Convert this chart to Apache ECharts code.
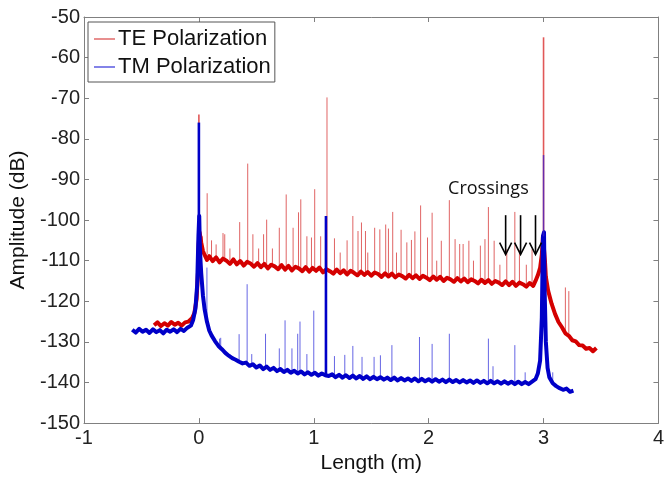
<!DOCTYPE html>
<html><head><meta charset="utf-8">
<script src="https://cdn.jsdelivr.net/npm/echarts@6/dist/echarts.min.js"></script>
<style>html,body{margin:0;padding:0;background:#fff}#c{width:667px;height:479px}</style>
</head><body><div id="c"></div>
<script>
// ---- data ----
const xTicks = [-1, 0, 1, 2, 3, 4];
const yTicks = [-150, -140, -130, -120, -110, -100, -90, -80, -70, -60, -50];
const seriesNames = ['TE Polarization', 'TM Polarization'];

// TE polarization trace (length m, amplitude dB)
const teTrace = [[-0.39,-125.9],[-0.36,-125.2],[-0.33,-126.1],[-0.30,-125.4],[-0.27,-126.0],[-0.24,-125.1],[-0.21,-125.8],[-0.18,-125.3],[-0.15,-126.0],[-0.12,-125.2],[-0.09,-125.0],[-0.06,-124.2],[-0.04,-123.0],[-0.02,-119.5],[-0.008,-113],[-0.002,-106],[0.006,-103],[0.012,-104],[0.02,-105.5],[0.035,-107.6],[0.05,-108.6],[0.07,-109.8],[0.09,-108.9],[0.12,-110.1],[0.15,-109.2],[0.18,-110.4],[0.21,-109.5],[0.24,-110.0],[0.27,-110.8],[0.30,-109.7],[0.33,-110.9],[0.36,-110.1],[0.39,-111.2],[0.42,-110.3],[0.45,-110.7],[0.48,-111.5],[0.51,-110.6],[0.54,-111.6],[0.57,-110.8],[0.60,-111.9],[0.63,-111.0],[0.66,-111.4],[0.69,-112.1],[0.72,-111.1],[0.75,-112.2],[0.78,-111.3],[0.81,-112.4],[0.84,-111.5],[0.87,-111.9],[0.90,-112.6],[0.93,-111.6],[0.96,-112.7],[0.99,-111.8],[1.02,-112.5],[1.05,-111.7],[1.08,-112.9],[1.11,-112.1],[1.14,-112.6],[1.17,-113.2],[1.20,-112.2],[1.23,-113.1],[1.26,-112.4],[1.29,-113.4],[1.32,-112.5],[1.35,-113.0],[1.38,-113.6],[1.41,-112.7],[1.44,-113.5],[1.47,-112.8],[1.50,-113.7],[1.53,-112.9],[1.56,-113.3],[1.59,-114.0],[1.62,-113.1],[1.65,-113.9],[1.68,-113.2],[1.71,-114.1],[1.74,-113.4],[1.77,-113.8],[1.80,-114.4],[1.83,-113.5],[1.86,-114.3],[1.89,-113.6],[1.92,-114.5],[1.95,-113.7],[1.98,-114.2],[2.01,-114.8],[2.04,-113.9],[2.07,-114.7],[2.10,-114.0],[2.13,-115.0],[2.16,-114.2],[2.19,-114.6],[2.22,-115.2],[2.25,-114.3],[2.28,-115.1],[2.31,-114.4],[2.34,-115.3],[2.37,-114.6],[2.40,-115.0],[2.43,-115.6],[2.46,-114.7],[2.49,-115.5],[2.52,-114.8],[2.55,-115.7],[2.58,-115.0],[2.61,-115.4],[2.64,-116.0],[2.67,-115.1],[2.70,-116.0],[2.73,-115.2],[2.76,-116.2],[2.79,-115.4],[2.82,-115.8],[2.85,-116.4],[2.88,-115.5],[2.91,-116.2],[2.93,-115.0],[2.95,-113.6],[2.97,-111.8],[2.985,-108.5],[2.995,-104],[3.005,-104],[3.012,-110],[3.02,-114],[3.04,-117.4],[3.07,-120.6],[3.10,-123.1],[3.13,-125.1],[3.16,-126.4],[3.19,-127.9],[3.22,-128.5],[3.25,-129.6],[3.28,-129.9],[3.31,-130.8],[3.34,-130.9],[3.37,-131.7],[3.40,-131.5],[3.43,-132.3],[3.46,-131.5]];

// TE main reflection peaks: [length, trace level, peak]
const tePeaks = [[0.0,-106,-74],[3.0,-104,-55]];

// TE smaller reflection spikes: [length, trace level, peak]
const teSpikes = [[0.03,-106,-104],[0.072,-108.5,-93.4],[0.11,-109.5,-105],[0.15,-109.5,-106],[0.21,-109.5,-103.2],[0.225,-109.5,-103.5],[0.27,-110,-107],[0.355,-110,-100.5],[0.425,-110.5,-86.1],[0.47,-110.5,-103.5],[0.52,-111,-107],[0.563,-111,-103.5],[0.59,-111,-99.9],[0.64,-111,-107],[0.70,-111.5,-101.9],[0.76,-111.5,-93.7],[0.82,-111.5,-101.9],[0.867,-111.8,-98.1],[0.887,-111.8,-94.9],[0.94,-112,-104],[0.98,-112,-104.3],[1.008,-112,-92.4],[1.06,-112,-104],[1.115,-112.3,-69.8],[1.18,-112.5,-104.5],[1.23,-112.5,-108],[1.29,-112.8,-105],[1.34,-112.8,-99],[1.385,-113,-102.7],[1.415,-113,-100.6],[1.45,-113,-102.7],[1.47,-113,-108],[1.53,-113.2,-101.9],[1.575,-113.3,-102.3],[1.626,-113.4,-101.1],[1.65,-113.4,-102.1],[1.687,-113.5,-98],[1.72,-113.6,-108],[1.76,-113.6,-102.4],[1.81,-113.8,-105.5],[1.85,-113.8,-104.9],[1.88,-114,-102.8],[1.93,-114,-96.4],[1.99,-114,-104.3],[2.03,-114.2,-98.2],[2.07,-114.3,-110],[2.11,-114.4,-105.1],[2.18,-114.5,-95.1],[2.23,-114.6,-104.7],[2.27,-114.6,-105.9],[2.30,-114.7,-105.9],[2.35,-114.8,-105.1],[2.39,-114.8,-110],[2.45,-115,-106.3],[2.49,-115,-104.7],[2.52,-115.1,-96.8],[2.57,-115.2,-105.1],[2.62,-115.3,-111],[2.68,-115.5,-107.2],[2.75,-115.6,-98],[2.79,-115.7,-107.4],[2.85,-115.8,-111],[2.90,-115.8,-107.2],[3.19,-127.8,-116.6],[3.22,-128.5,-117.5]];

// TM polarization trace
const tmTrace = [[-0.58,-127.0],[-0.55,-127.7],[-0.52,-126.8],[-0.49,-127.5],[-0.46,-127.0],[-0.43,-127.8],[-0.40,-126.9],[-0.37,-127.6],[-0.34,-127.1],[-0.31,-127.9],[-0.28,-127.0],[-0.25,-127.5],[-0.22,-126.9],[-0.19,-127.6],[-0.16,-126.8],[-0.13,-127.3],[-0.10,-126.5],[-0.07,-126.0],[-0.05,-124.6],[-0.03,-121.8],[-0.015,-116],[-0.004,-104],[0.003,-99],[0.008,-106],[0.014,-110],[0.02,-113],[0.035,-118.5],[0.05,-122],[0.07,-125],[0.09,-127.2],[0.11,-128.4],[0.14,-129.8],[0.17,-131.0],[0.20,-131.8],[0.23,-132.7],[0.26,-133.4],[0.29,-134.0],[0.32,-134.4],[0.35,-134.9],[0.38,-135.3],[0.41,-135.1],[0.44,-135.9],[0.47,-135.5],[0.50,-136.3],[0.53,-135.8],[0.56,-136.7],[0.59,-136.1],[0.62,-136.9],[0.65,-136.4],[0.68,-137.2],[0.71,-136.7],[0.74,-137.4],[0.77,-136.9],[0.80,-137.6],[0.83,-137.1],[0.86,-137.8],[0.89,-137.3],[0.92,-138.0],[0.95,-137.5],[0.98,-138.1],[1.01,-137.6],[1.04,-138.3],[1.07,-137.8],[1.10,-138.2],[1.13,-138.4],[1.16,-138.0],[1.19,-138.7],[1.22,-138.1],[1.25,-138.8],[1.28,-138.2],[1.31,-138.9],[1.34,-138.3],[1.37,-139.0],[1.40,-138.4],[1.43,-139.1],[1.46,-138.5],[1.49,-139.2],[1.52,-138.6],[1.55,-139.2],[1.58,-138.7],[1.61,-139.3],[1.64,-138.8],[1.67,-139.4],[1.70,-138.8],[1.73,-139.5],[1.76,-138.9],[1.79,-139.5],[1.82,-139.0],[1.85,-139.6],[1.88,-139.0],[1.91,-139.7],[1.94,-139.1],[1.97,-139.7],[2.00,-139.2],[2.03,-139.8],[2.06,-139.2],[2.09,-139.8],[2.12,-139.3],[2.15,-139.9],[2.18,-139.3],[2.21,-139.9],[2.24,-139.4],[2.27,-140.0],[2.30,-139.4],[2.33,-140.0],[2.36,-139.5],[2.39,-140.1],[2.42,-139.5],[2.45,-140.1],[2.48,-139.6],[2.51,-140.2],[2.54,-139.6],[2.57,-140.2],[2.60,-139.7],[2.63,-140.3],[2.66,-139.7],[2.69,-140.3],[2.72,-139.8],[2.75,-140.4],[2.78,-139.8],[2.81,-140.4],[2.84,-139.9],[2.87,-140.4],[2.90,-139.8],[2.93,-139.2],[2.95,-137.8],[2.97,-134.6],[2.985,-124],[2.995,-104],[3.004,-103],[3.01,-118],[3.02,-130],[3.035,-136.4],[3.05,-138.7],[3.08,-140.2],[3.11,-140.9],[3.14,-141.4],[3.17,-141.8],[3.20,-141.5],[3.23,-142.3],[3.26,-142.0]];

// TM main reflection peaks: [length, trace level, peak]
const tmPeaks = [[0.0,-100,-76],[1.106,-138.2,-99],[3.0,-104,-84]];

// TM smaller reflection spikes: [length, trace level, peak]
const tmSpikes = [[0.07,-125,-111.7],[0.18,-131,-129.2],[0.19,-131.2,-129],[0.35,-134.9,-128.1],[0.42,-135.2,-115.8],[0.46,-135.7,-133],[0.58,-136.4,-128],[0.70,-137,-131.6],[0.75,-137.1,-124.7],[0.81,-137.3,-131.6],[0.86,-137.5,-128],[0.88,-137.5,-125],[0.94,-137.8,-133],[1.0,-137.9,-122.3],[1.18,-138.4,-133.5],[1.27,-138.5,-133.2],[1.34,-138.6,-131],[1.42,-138.8,-133.7],[1.525,-138.9,-133.7],[1.58,-139,-133.3],[1.68,-139.1,-130.8],[1.92,-139.4,-128.8],[2.03,-139.5,-130.5],[2.18,-139.6,-128],[2.52,-139.9,-129.2],[2.56,-139.9,-136],[2.75,-140.1,-130.8],[2.84,-140.1,-137.5],[3.08,-140.2,-137.5]];

// "Crossings" annotation: arrow positions (length m) and their vertical span (dB)
const crossingX = [2.67, 2.80, 2.93];
const crossingSpan = [-98.8, -108.5];
const crossingLabel = 'Crossings';
const crossingLabelAt = [2.52, -92.3];

// ---- chart ----
const FONT = '"Liberation Sans", Arial, Helvetica, sans-serif';
const AX = '#808080';
const TE_COL = '#d40000', TE_SPK = 'rgba(212,40,40,0.72)', TE_PEAK = 'rgba(222,70,70,0.9)', TE_LEG = '#e06a6a';
const TM_COL = '#0000c8', TM_SPK = 'rgba(30,30,215,0.68)', TM_PEAK_THIN = 'rgba(60,30,200,0.75)', TM_LEG = '#5a5ae0';

function spikeRenderer(color, width) {
  return function (params, api) {
    const a = api.coord([api.value(0), api.value(1)]);
    const b = api.coord([api.value(0), api.value(2)]);
    return { type: 'line', shape: { x1: a[0], y1: a[1], x2: b[0], y2: b[1] },
      style: { stroke: color, lineWidth: width, lineCap: 'butt' } };
  };
}
function tmPeakRenderer(params, api) {
  const a = api.coord([api.value(0), api.value(1)]);
  const b = api.coord([api.value(0), api.value(2)]);
  // the peak at 3 m is only a thin line above the thick TM trace
  const thin = api.value(0) > 2;
  return { type: 'line', shape: { x1: a[0], y1: a[1], x2: b[0], y2: b[1] },
    style: { stroke: thin ? TM_PEAK_THIN : TM_COL, lineWidth: thin ? 1.5 : 2.6, lineCap: 'butt' } };
}

const chart = echarts.init(document.getElementById('c'), null, { renderer: 'canvas' });
const baseAxisX = {
  type: 'value', min: xTicks[0], max: xTicks[xTicks.length - 1], interval: 1,
  splitLine: { show: false },
  axisLine: { show: true, onZero: false, lineStyle: { color: AX, width: 1 } },
  axisTick: { show: true, inside: true, length: 5, lineStyle: { color: AX } }
};
const baseAxisY = {
  type: 'value', min: yTicks[0], max: yTicks[yTicks.length - 1], interval: 10,
  splitLine: { show: false },
  axisLine: { show: true, onZero: false, lineStyle: { color: AX, width: 1 } },
  axisTick: { show: true, inside: true, length: 5, lineStyle: { color: AX } }
};

chart.setOption({
  backgroundColor: '#fff',
  animation: false,
  grid: { left: 84, right: 6, top: 17, bottom: 52, containLabel: false },
  legend: {
    data: [
      { name: seriesNames[0], itemStyle: { color: TE_LEG } },
      { name: seriesNames[1], itemStyle: { color: TM_LEG } }
    ],
    orient: 'vertical', left: 88, top: 22,
    icon: 'rect', itemWidth: 21, itemHeight: 1.5, itemGap: 6,
    padding: [6, 4, 4, 6],
    backgroundColor: '#fff', borderColor: '#555', borderWidth: 1,
    textStyle: { fontFamily: FONT, fontSize: 22, color: '#111', padding: [0, 0, 0, -2] },
    selectedMode: false
  },
  xAxis: [
    Object.assign({}, baseAxisX, {
      position: 'bottom',
      name: 'Length (m)', nameLocation: 'middle', nameGap: 22,
      nameTextStyle: { fontFamily: FONT, fontSize: 21, color: '#111' },
      axisLabel: { fontFamily: FONT, fontSize: 20, color: '#222', margin: 5 }
    }),
    Object.assign({}, baseAxisX, { position: 'top', axisLabel: { show: false } })
  ],
  yAxis: [
    Object.assign({}, baseAxisY, {
      position: 'left',
      name: 'Amplitude (dB)', nameLocation: 'middle', nameGap: 51,
      nameTextStyle: { fontFamily: FONT, fontSize: 21, color: '#111' },
      axisLabel: { fontFamily: FONT, fontSize: 20, color: '#222', margin: 4 }
    }),
    Object.assign({}, baseAxisY, { position: 'right', axisLabel: { show: false } })
  ],
  series: [
    { name: 'TE spikes', type: 'custom', renderItem: spikeRenderer(TE_SPK, 1),
      encode: { x: 0, y: [1, 2] }, data: teSpikes, z: 1, silent: true },
    { name: seriesNames[0], type: 'line', data: teTrace, showSymbol: false, symbol: 'none',
      lineStyle: { color: TE_COL, width: 4, join: 'round' }, itemStyle: { color: TE_LEG }, z: 2, silent: true },
    { name: 'TE peaks', type: 'custom', renderItem: spikeRenderer(TE_PEAK, 1.6),
      encode: { x: 0, y: [1, 2] }, data: tePeaks, z: 3, silent: true },
    { name: 'TM spikes', type: 'custom', renderItem: spikeRenderer(TM_SPK, 1),
      encode: { x: 0, y: [1, 2] }, data: tmSpikes, z: 4, silent: true },
    { name: seriesNames[1], type: 'line', data: tmTrace, showSymbol: false, symbol: 'none',
      lineStyle: { color: TM_COL, width: 4, join: 'round' }, itemStyle: { color: TM_LEG }, z: 5, silent: true },
    { name: 'TM peaks', type: 'custom', renderItem: tmPeakRenderer,
      encode: { x: 0, y: [1, 2] }, data: tmPeaks, z: 6, silent: true },
    { name: 'crossings', type: 'custom', z: 7, silent: true,
      data: crossingX.map(x => [x, crossingSpan[0], crossingSpan[1]]),
      encode: { x: 0, y: [1, 2] },
      renderItem: function (params, api) {
        const top = api.coord([api.value(0), api.value(1)]);
        const bot = api.coord([api.value(0), api.value(2)]);
        return { type: 'group', children: [
          { type: 'line', shape: { x1: top[0], y1: top[1], x2: bot[0], y2: bot[1] - 1 },
            style: { stroke: '#000', lineWidth: 1.6 } },
          { type: 'polyline', shape: { points: [[bot[0] - 6, bot[1] - 12], [bot[0], bot[1]], [bot[0] + 6, bot[1] - 12]] },
            style: { stroke: '#000', lineWidth: 1.6, fill: null } }
        ] };
      } },
    { name: 'crossings label', type: 'custom', z: 7, silent: true,
      data: [crossingLabelAt], encode: { x: 0, y: 1 },
      renderItem: function (params, api) {
        const p = api.coord([api.value(0), api.value(1)]);
        return { type: 'text', x: p[0], y: p[1],
          style: { text: crossingLabel, fill: '#111', font: '18px "Open Sans", "Noto Sans", sans-serif',
            align: 'center', verticalAlign: 'middle' } };
      } }
  ]
});
</script>
</body></html>
